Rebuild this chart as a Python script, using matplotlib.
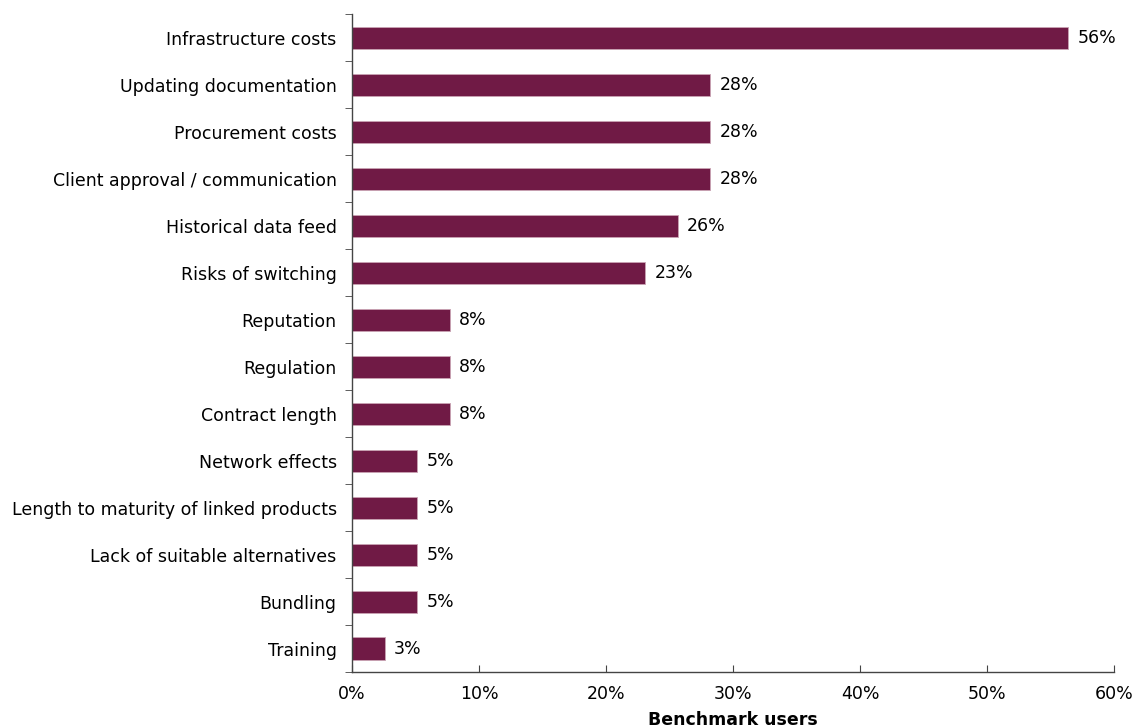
import numpy as np
import matplotlib
matplotlib.use("Agg")
import matplotlib.pyplot as plt
from matplotlib.ticker import FixedLocator, PercentFormatter

plt.rcParams["font.family"] = ["DejaVu Sans"]

# share of benchmark users (n = 39) citing each switching barrier
categories = [
    "Infrastructure costs",
    "Updating documentation",
    "Procurement costs",
    "Client approval / communication",
    "Historical data feed",
    "Risks of switching",
    "Reputation",
    "Regulation",
    "Contract length",
    "Network effects",
    "Length to maturity of linked products",
    "Lack of suitable alternatives",
    "Bundling",
    "Training",
]
counts = [22, 11, 11, 11, 10, 9, 3, 3, 3, 2, 2, 2, 2, 1]
respondents = 39
shares = [100.0 * c / respondents for c in counts]

bar_color = "#701a45"
font_size = 12.5

fig = plt.figure(figsize=(11.39, 7.27), dpi=100)
ax = fig.add_axes([0.309, 0.0756, 0.669, 0.905])

y = np.arange(len(categories))
ax.barh(y, shares, height=0.47, color=bar_color, edgecolor="#c9a3b4", linewidth=0.6)

for yi, v in zip(y, shares):
    ax.text(v + 0.75, yi, f"{v:.0f}%", va="center", ha="left", fontsize=font_size)

ax.set_ylim(len(categories) - 0.5, -0.5)
ax.set_xlim(0, 60)
ax.set_yticks(y)
ax.set_yticklabels(categories, fontsize=font_size)
ax.tick_params(axis="y", which="major", length=0, pad=11)
ax.yaxis.set_minor_locator(FixedLocator(np.arange(-0.5, len(categories), 1)))
ax.tick_params(axis="y", which="minor", length=5, direction="out", color="#444444")

ax.set_xticks(np.arange(0, 61, 10))
ax.xaxis.set_major_formatter(PercentFormatter(decimals=0))
ax.tick_params(axis="x", length=5, direction="in", labelsize=font_size, pad=9, color="#444444")
ax.set_xlabel("Benchmark users", fontsize=font_size, fontweight="bold", labelpad=6)

for side in ("top", "right"):
    ax.spines[side].set_visible(False)
for side in ("left", "bottom"):
    ax.spines[side].set_color("#444444")
    ax.spines[side].set_linewidth(1.0)

fig.savefig("out.png", dpi=100)
